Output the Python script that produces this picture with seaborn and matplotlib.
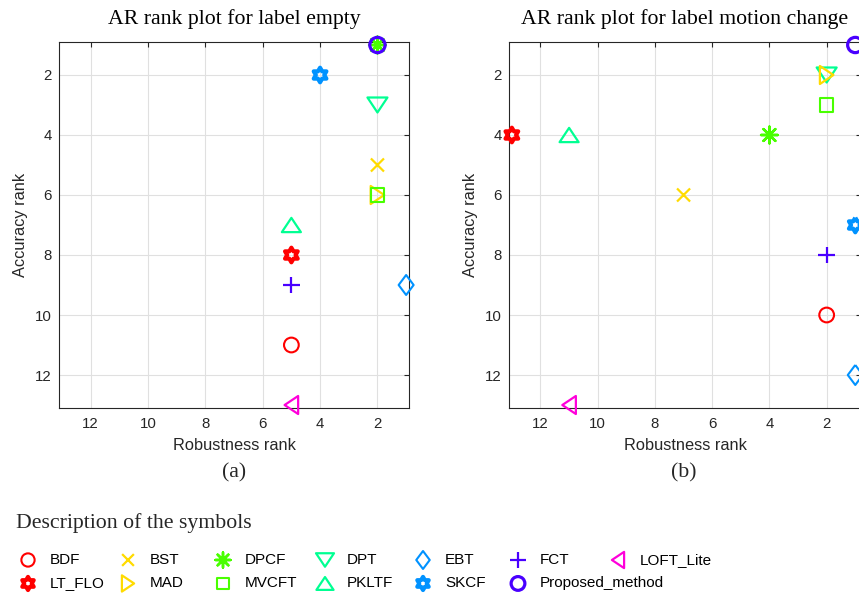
import colorsys
import numpy as np
import pandas as pd
import matplotlib
matplotlib.use("Agg")
import matplotlib.pyplot as plt
import seaborn as sns
from matplotlib.path import Path
from matplotlib.markers import MarkerStyle

# ---------------- data ----------------
methods = ["BDF", "BST", "DPCF", "DPT", "EBT", "FCT", "LOFT_Lite",
           "LT_FLO", "MAD", "MVCFT", "PKLTF", "SKCF", "Proposed_method"]
empty_robustness = [5, 2, 2, 2, 1, 5, 5, 5, 2, 2, 5, 4, 2]
empty_accuracy = [11, 5, 1, 3, 9, 9, 13, 8, 6, 6, 7, 2, 1]
motion_robustness = [2, 7, 4, 2, 1, 2, 11, 13, 2, 2, 11, 1, 1]
motion_accuracy = [10, 6, 4, 2, 12, 8, 13, 4, 2, 3, 4, 7, 1]
rank_ticks = [2, 4, 6, 8, 10, 12]
titles = ["AR rank plot for label empty", "AR rank plot for label motion change"]
panel_labels = ["(a)", "(b)"]

# ---------------- styles ----------------
hsv7 = [colorsys.hsv_to_rgb(i / 7, 1, 1) for i in range(7)]
color_idx = [0, 1, 2, 3, 4, 5, 6, 0, 1, 2, 3, 4, 5]

def poly(pts):
    pts = list(pts) + [pts[0]]
    codes = [Path.MOVETO] + [Path.LINETO] * (len(pts) - 2) + [Path.CLOSEPOLY]
    return Path(pts, codes)

tri_down = poly([(-1, 0.75), (1, 0.75), (0, -0.75)])
tri_up = poly([(-1, -0.75), (1, -0.75), (0, 0.75)])
tri_left = poly([(-0.75, 0), (0.75, 1), (0.75, -1)])
tri_right = poly([(0.75, 0), (-0.75, 1), (-0.75, -1)])
diamond = poly([(0, 1), (0.75, 0), (0, -1), (-0.75, 0)])
hexagram = Path.unit_regular_star(6, 0.5774)

# marker, size (pt), linewidth (pt)
style = {
    "BDF": ("o", 10.6, 1.5),
    "BST": ("x", 9.4, 1.6),
    "DPCF": ((8, 2, 0), 12.0, 1.8),
    "DPT": (tri_down, 14.4, 1.6),
    "EBT": (diamond, 14.4, 1.5),
    "FCT": ("+", 12.2, 1.6),
    "LOFT_Lite": (tri_left, 13.0, 1.6),
    "LT_FLO": (hexagram, 10.5, 3.0),
    "MAD": (tri_right, 13.0, 1.6),
    "MVCFT": ("s", 9.4, 1.5),
    "PKLTF": (tri_up, 13.7, 1.6),
    "SKCF": (hexagram, 10.5, 3.0),
    "Proposed_method": ("o", 11.0, 2.3),
}

sns.set_style("white")
plt.rcParams["font.family"] = ["Liberation Sans", "DejaVu Sans"]
SERIF = ["Liberation Serif", "DejaVu Serif"]
DARK = "#262626"

W, H = 859, 596
fig = plt.figure(figsize=(W / 100, H / 100), dpi=100)

def px_rect(l, t, r, b):
    return [l / W, 1 - b / H, (r - l) / W, (b - t) / H]

ax1 = fig.add_axes(px_rect(59, 42, 409, 408))
ax2 = fig.add_axes(px_rect(509, 42, 861, 408))

datasets = [(ax1, empty_robustness, empty_accuracy, (13.1, 0.9)),
            (ax2, motion_robustness, motion_accuracy, (13.1, 0.8))]

for k, (ax, rob, acc, xl) in enumerate(datasets):
    for i, m in enumerate(methods):
        mk, size, lw = style[m]
        sns.scatterplot(x=[rob[i]], y=[acc[i]], ax=ax,
                        marker=MarkerStyle(mk, fillstyle="none"),
                        color=hsv7[color_idx[i]], s=size ** 2, linewidth=lw,
                        label=m, legend=False, clip_on=False, zorder=3 + i)
    if ax.get_legend() is not None:
        ax.get_legend().remove()
    ax.set_xlim(*xl)
    ax.set_ylim(13.1, 0.9)
    ax.set_xticks(rank_ticks)
    ax.set_yticks(rank_ticks)
    ax.grid(True, color="#e0e0e0", linewidth=0.8, zorder=0)
    ax.set_axisbelow(True)
    for sp in ax.spines.values():
        sp.set_color(DARK)
        sp.set_linewidth(0.8)
    ax.tick_params(axis="both", direction="in", top=True, right=True,
                   length=3.5, width=0.8, color=DARK, labelcolor=DARK,
                   labelsize=10.8)
    ax.tick_params(axis="x", pad=6.5)
    ax.tick_params(axis="y", pad=5)
    ax.set_xlabel("Robustness rank", fontsize=11.8, color=DARK)
    ax.set_ylabel("Accuracy rank", fontsize=11.8, color=DARK)
    ax.xaxis.set_label_coords(0.5, -0.083)
    ax.yaxis.set_label_coords(-0.088 if k == 0 else -0.087, 0.5)
    ax.set_title(titles[k], family=SERIF, fontsize=15.7, pad=13, color="black")

fig.text(234 / W, 1 - 473 / H, panel_labels[0], family=SERIF, fontsize=15.7,
         ha="center", va="center")
fig.text(684 / W, 1 - 473 / H, panel_labels[1], family=SERIF, fontsize=15.7,
         ha="center", va="center")
fig.text(16 / W, 1 - 523 / H, "Description of the symbols", family=SERIF,
         fontsize=15.7, ha="left", va="center")

# legend: one small legend per column, placed at the reference column positions
handles, labels = ax1.get_legend_handles_labels()
hmap = dict(zip(labels, handles))
columns = [(0, 7), (1, 8), (2, 9), (3, 10), (4, 11), (5, 12), (6,)]
col_x = [28, 128, 223, 325, 423, 518, 618]
fs = 11
em = fs * 100 / 72
hl = 1.2
for cx, col in zip(col_x, columns):
    hs = [hmap[methods[j]] for j in col]
    ls = [methods[j] for j in col]
    fig.legend(hs, ls, loc="upper left",
               bbox_to_anchor=((cx - 0.5 * hl * em) / W, 1 - 553 / H),
               frameon=False, fontsize=fs, handlelength=hl,
               handletextpad=0.84, borderpad=0, borderaxespad=0,
               labelspacing=0.62, scatterpoints=1, markerscale=0.9,
               labelcolor="black")

fig.savefig("out.png", dpi=100)
